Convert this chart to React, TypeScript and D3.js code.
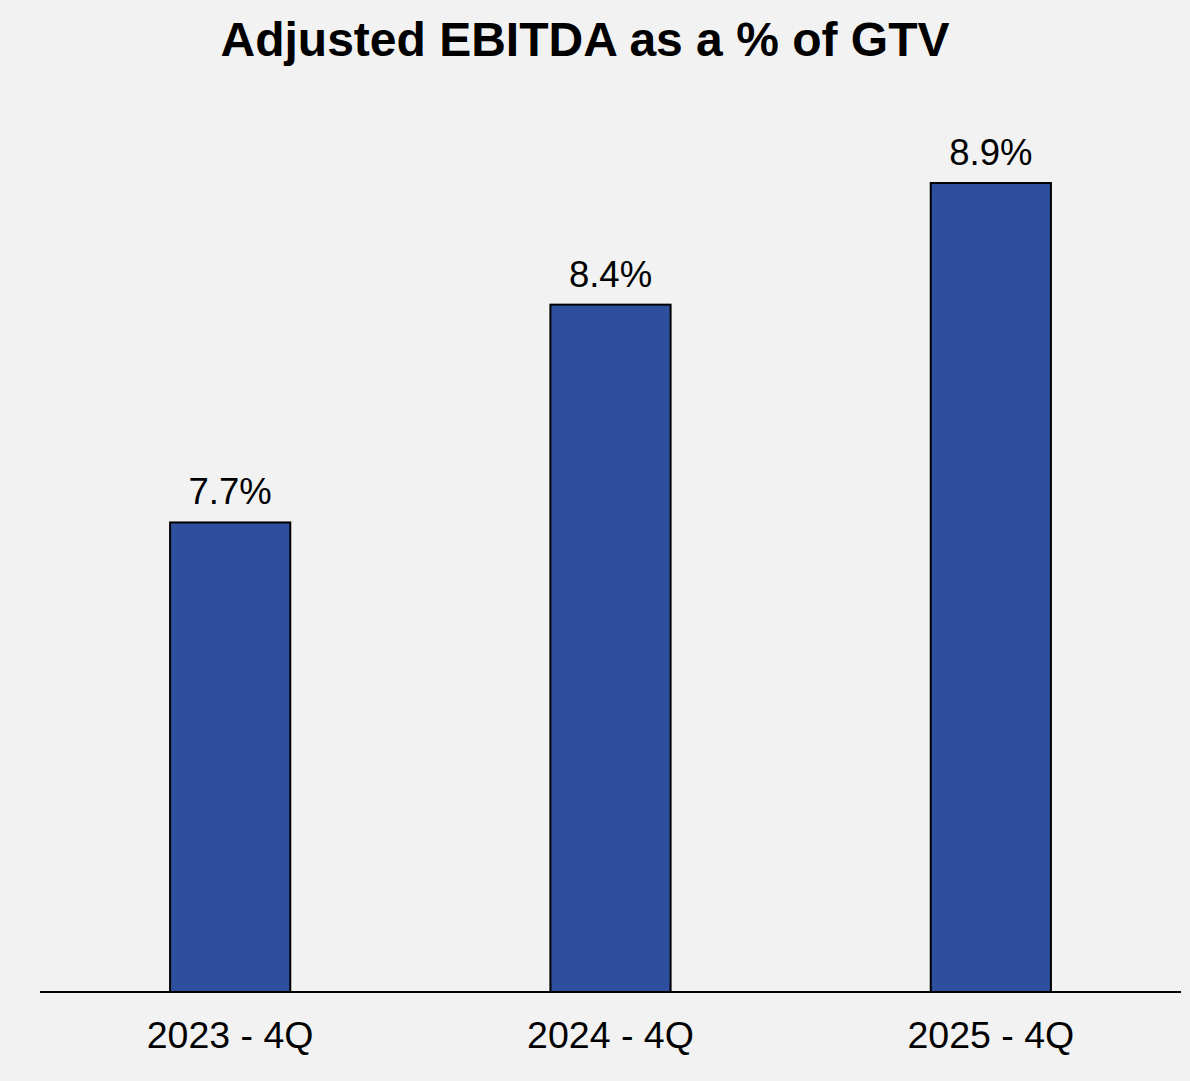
import React, { useRef, useEffect } from 'react';
import { scaleBand, scaleLinear, select, format } from 'd3';

const width = 1190;
const height = 1081;
const titleText = 'Adjusted EBITDA as a % of GTV';

// values, labels round to one decimal
const quarters = ['2023 - 4Q', '2024 - 4Q', '2025 - 4Q'];
const ebitdaPct = [7.66, 8.43, 8.86];

const axisLeft = 40;
const axisRight = 1181;
const baseY = 992;

const Chart = () => {
    const ref = useRef(null);

    useEffect(() => {
        if (!ref.current) return;
        const g = select(ref.current);
        g.selectAll('*').remove();

        const x = scaleBand(quarters, [axisLeft, axisRight])
            .paddingInner(0.684)
            .paddingOuter(0.342);
        // axis does not start at zero
        const y = scaleLinear([6, 9.5], [baseY, 2]);
        const fmt = format('.1f');

        const rows = quarters.map((q, i) => ({ q, v: ebitdaPct[i] }));

        const bars = g.selectAll('g.bar').data(rows).join('g').classed('bar', true);

        bars.append('rect')
            .attr('x', d => x(d.q))
            .attr('y', d => y(d.v))
            .attr('width', x.bandwidth())
            .attr('height', d => baseY - y(d.v))
            .attr('fill', '#2e4f9e')
            .attr('stroke', '#000')
            .attr('stroke-width', 2);

        bars.append('text')
            .attr('x', d => x(d.q) + x.bandwidth() / 2)
            .attr('y', d => y(d.v) - 18)
            .attr('text-anchor', 'middle')
            .attr('font-size', 36.5)
            .attr('fill', '#000')
            .text(d => `${fmt(d.v)}%`);

        bars.append('text')
            .attr('x', d => x(d.q) + x.bandwidth() / 2)
            .attr('y', 1048)
            .attr('text-anchor', 'middle')
            .attr('font-size', 37.5)
            .attr('fill', '#000')
            .text(d => d.q);

        g.append('line')
            .attr('x1', axisLeft)
            .attr('x2', axisRight)
            .attr('y1', baseY)
            .attr('y2', baseY)
            .attr('stroke', '#000')
            .attr('stroke-width', 2);
    }, []);

    return (
        <svg width={width} height={height} style={{ position: 'absolute', left: 0, top: 0, display: 'block' }}
             fontFamily="'Liberation Sans', Arial, sans-serif">
            <rect width={width} height={height} fill="#f2f2f2" />
            <text x={585} y={56} textAnchor="middle" fontSize={48} fontWeight="bold">{titleText}</text>
            <g ref={ref} />
        </svg>
    );
};

export default function App() {
    return <Chart />;
}
